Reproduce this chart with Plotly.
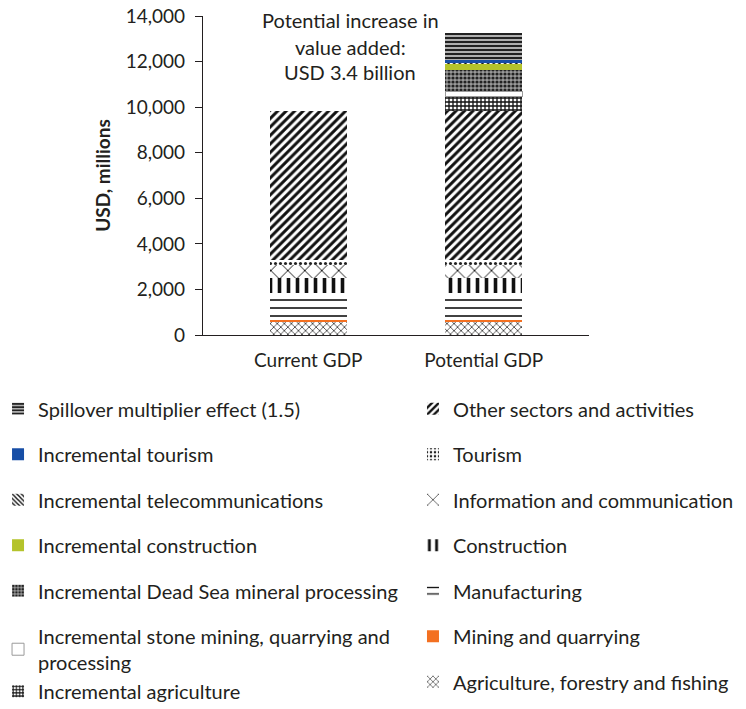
import plotly.graph_objects as go

categories = ["Current GDP", "Potential GDP"]

# Existing sectors (USD millions)
agriculture = [560, 560]
mining = [120, 120]
manufacturing = [1160, 1160]
construction = [640, 640]
info_comm = [580, 580]
tourism = [230, 230]
other = [6530, 6530]

# Incremental value added (Potential GDP only)
inc_agriculture = [None, 650]
inc_stone = [None, 230]
inc_deadsea = [None, 940]
inc_construction = [None, 260]
inc_telecom = [None, 40]
inc_tourism = [None, 145]
spillover = [None, 1150]

annotation_lines = ["Potential increase in", "value added:", "USD 3.4 billion"]
y_ticks = [0, 2000, 4000, 6000, 8000, 10000, 12000, 14000]

FONT = "Lato"
TXT = "#231F20"

fig = go.Figure()


def add(name, vals, legend, rank, color="white", pattern=None, line_color=None, group=None):
    marker = dict(color=color, line=dict(width=0))
    if line_color:
        marker["line"] = dict(width=1, color=line_color)
    if pattern:
        pattern = dict(fgopacity=1, **pattern)
        marker["pattern"] = pattern
    fig.add_trace(go.Bar(
        x=categories, y=vals, name=name, legend=legend, legendrank=rank,
        legendgroup=group or name, marker=marker, width=0.44,
        hoverinfo="name+y",
    ))


# stack order bottom -> top
add("Agriculture, forestry and fishing", agriculture, "legend2", 7,
    pattern=dict(shape="x", size=5, solidity=0.25, fgcolor="#111", bgcolor="white"))
add("Mining and quarrying", mining, "legend2", 6, color="#F37021")
add("Manufacturing", manufacturing, "legend2", 5,
    pattern=dict(shape="-", size=8, solidity=0.2, fgcolor="#111", bgcolor="white"))
add("Construction", construction, "legend2", 4,
    pattern=dict(shape="|", size=9, solidity=0.4, fgcolor="#111", bgcolor="white"))
add("Information and communication", info_comm, "legend2", 3,
    pattern=dict(shape="x", size=12, solidity=0.15, fgcolor="#111", bgcolor="white"))
add("Tourism", tourism, "legend2", 2,
    pattern=dict(shape=".", size=5, solidity=0.3, fgcolor="#222", bgcolor="white"))
add("Other sectors and activities", other, "legend2", 1,
    pattern=dict(shape="/", size=6, solidity=0.5, fgcolor="#111", bgcolor="white"))

add("Incremental agriculture", inc_agriculture, "legend", 7,
    pattern=dict(shape="+", size=4, solidity=0.55, fgcolor="#111", bgcolor="white"),
    group="stone_agri")
add("Incremental stone mining, quarrying and<br>processing", inc_stone, "legend", 6,
    color="white", line_color="#9a9a9a", group="stone_agri")
add("Incremental Dead Sea mineral processing", inc_deadsea, "legend", 5,
    pattern=dict(shape=".", size=4, solidity=0.5, fgcolor="#222", bgcolor="#9a9a9a"))
add("Incremental construction", inc_construction, "legend", 4, color="#B4C32B")
add("Incremental telecommunications", inc_telecom, "legend", 3,
    pattern=dict(shape="\\", size=4, solidity=0.45, fgcolor="#111", bgcolor="white"))
add("Incremental tourism", inc_tourism, "legend", 2, color="#174EA6")
add("Spillover multiplier effect (1.5)", spillover, "legend", 1,
    pattern=dict(shape="-", size=4, solidity=0.45, fgcolor="#111", bgcolor="#b0b0b0"))

ann_y = [0.9875, 0.903, 0.825]
for txt, yy in zip(annotation_lines, ann_y):
    fig.add_annotation(text=txt, x=0.381, y=yy, xref="paper", yref="paper",
                       showarrow=False, xanchor="center", yanchor="middle",
                       font=dict(family=FONT, size=20, color=TXT))

legend_common = dict(
    xanchor="left", yanchor="top", orientation="v",
    font=dict(family=FONT, size=20, color=TXT),
    traceorder="grouped", tracegroupgap=16.5,
    bgcolor="rgba(0,0,0,0)", itemclick=False, itemdoubleclick=False,
)

fig.update_layout(
    width=746, height=709,
    margin=dict(l=203, r=157, t=16, b=373.5, autoexpand=False),
    plot_bgcolor="white", paper_bgcolor="white",
    barmode="stack",
    font=dict(family=FONT, size=20, color=TXT),
    showlegend=True,
    legend=dict(x=-0.531, y=-0.17, **legend_common),
    legend2=dict(x=0.544, y=-0.17, **legend_common),
    xaxis=dict(
        type="category", range=[-0.6, 1.6], showline=True, linecolor="#231F20",
        linewidth=1.2, ticks="", showgrid=False, zeroline=False,
        tickfont=dict(family=FONT, size=19, color=TXT), ticklabelstandoff=8,
    ),
    xaxis2=dict(
        overlaying="x", range=[-0.6, 1.6], tickvals=[0.5, 1.6], ticks="outside",
        ticklen=8, tickcolor="#231F20", showticklabels=False, showgrid=False,
        zeroline=False, showline=False, side="bottom",
    ),
    yaxis=dict(
        range=[0, 14000], tickvals=y_ticks, tickformat=",", showline=True,
        linecolor="#231F20", linewidth=1.2, ticks="outside", ticklen=7,
        tickcolor="#231F20", showgrid=False, zeroline=False,
        tickfont=dict(family=FONT, size=19, color=TXT), ticklabelstandoff=6,
        title=dict(text="<b>USD, millions</b>", standoff=10,
                   font=dict(family=FONT, size=19, color=TXT)),
    ),
)

fig.write_html("out.html")
